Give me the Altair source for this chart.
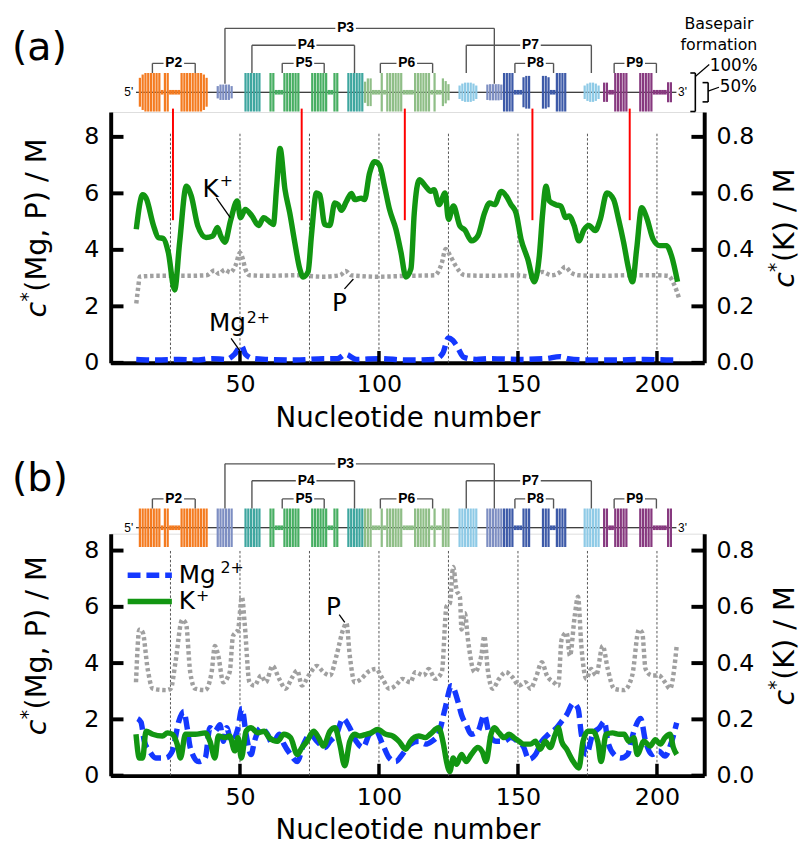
import altair as alt
import pandas as pd

# ---------------- data: panel (a) ----------------
A_K_N = [12.7, 15.0, 16.2, 18.9, 20.6, 22.4, 24.2, 26.5, 28.3, 30.7,
         32.5, 34.8, 37.8, 40.2, 41.9, 43.1, 44.6, 46.6, 49.0, 50.2,
         51.9, 54.3, 56.7, 58.5, 60.8, 62.0, 63.2, 64.4, 66.2, 67.9,
         69.7, 71.5, 72.7, 74.5, 75.7, 77.5, 78.7, 80.5, 82.3, 84.1,
         85.3, 86.5, 88.3, 90.1, 91.3, 93.6, 94.8, 96.6, 98.4, 100.2,
         102.0, 103.8, 106.1, 107.9, 109.7, 111.5, 112.7, 114.5, 116.8, 118.6,
         119.8, 121.6, 123.8, 125.0, 126.8, 129.1, 130.9, 133.3, 135.6, 138.0,
         139.8, 141.6, 144.0, 145.8, 147.5, 149.3, 151.1, 153.5, 155.9, 157.7,
         158.9, 160.1, 161.3, 163.6, 165.4, 167.2, 168.4, 170.2, 171.9, 173.7,
         175.5, 177.8, 179.6, 182.0, 184.4, 186.2, 188.0, 189.8, 191.2, 192.7,
         194.5, 196.3, 198.6, 201.0, 203.4, 205.2, 207.4]
A_K = [0.473, 0.595, 0.584, 0.486, 0.444, 0.440, 0.392, 0.258, 0.427, 0.625,
       0.590, 0.486, 0.444, 0.449, 0.479, 0.449, 0.427, 0.503, 0.573, 0.514,
       0.543, 0.520, 0.486, 0.514, 0.498, 0.490, 0.625, 0.759, 0.613, 0.531,
       0.427, 0.333, 0.304, 0.322, 0.450, 0.601, 0.595, 0.490, 0.486, 0.566,
       0.560, 0.540, 0.572, 0.600, 0.578, 0.583, 0.578, 0.671, 0.712, 0.700,
       0.625, 0.543, 0.473, 0.392, 0.304, 0.333, 0.531, 0.648, 0.625, 0.607,
       0.613, 0.560, 0.601, 0.508, 0.555, 0.485, 0.470, 0.432, 0.450, 0.531,
       0.566, 0.560, 0.607, 0.590, 0.560, 0.531, 0.438, 0.368, 0.287, 0.380,
       0.531, 0.625, 0.573, 0.560, 0.555, 0.514, 0.520, 0.486, 0.432, 0.470,
       0.486, 0.468, 0.508, 0.601, 0.578, 0.508, 0.427, 0.333, 0.287, 0.403,
       0.549, 0.514, 0.438, 0.415, 0.415, 0.380, 0.287]
A_P_N = [12.7, 13.3, 14.0, 20.0, 30.0, 38.0, 40.8, 42.5, 44.5, 46.5,
         48.4, 50.0, 50.8, 52.0, 53.5, 60.0, 70.0, 80.0, 86.0, 88.0,
         90.0, 100.0, 110.0, 120.0, 122.5, 124.0, 125.6, 127.5, 130.9, 140.0,
         150.0, 155.0, 158.9, 162.0, 165.0, 167.0, 169.0, 172.0, 180.0, 190.0,
         200.0, 204.0, 206.5, 207.9]
A_P = [2.10, 2.60, 3.05, 3.08, 3.08, 3.10, 3.27, 3.15, 3.30, 3.20,
       3.45, 3.90, 3.75, 3.30, 3.10, 3.08, 3.10, 3.05, 3.10, 3.25,
       3.10, 3.05, 3.08, 3.10, 3.50, 4.03, 3.80, 3.45, 3.10, 3.08,
       3.10, 3.05, 3.22, 3.10, 3.20, 3.40, 3.20, 3.10, 3.08, 3.10,
       3.10, 3.08, 2.70, 2.30]
A_MG_N = [12.7, 20.0, 28.0, 35.0, 40.0, 45.0, 48.0, 50.5, 52.0, 55.0,
          60.0, 70.0, 80.0, 85.0, 88.0, 92.0, 100.0, 110.0, 120.0, 123.0,
          125.0, 126.5, 128.0, 130.5, 135.0, 140.0, 150.0, 160.0, 165.0, 168.0,
          175.0, 185.0, 195.0, 205.0, 208.0]
A_MG = [0.12, 0.10, 0.12, 0.10, 0.15, 0.12, 0.30, 0.60, 0.30, 0.15,
        0.12, 0.10, 0.15, 0.15, 0.30, 0.12, 0.15, 0.10, 0.12, 0.35,
        0.88, 0.80, 0.60, 0.20, 0.12, 0.15, 0.12, 0.15, 0.22, 0.15,
        0.10, 0.10, 0.12, 0.10, 0.10]
A_RED_N = [25.9, 72.2, 109.3, 155.2, 190.2]
A_RED_FROM, A_RED_TO = 5.05, 9.0

# ---------------- data: panel (b) ----------------
B_P_N = [12.6, 13.8, 15.0, 16.8, 18.6, 23.3, 25.1, 26.8, 29.2, 30.6,
         32.1, 33.9, 37.5, 39.8, 41.0, 42.2, 44.0, 46.3, 47.5, 49.3,
         50.7, 51.7, 53.4, 55.2, 57.6, 59.3, 61.7, 64.1, 66.4, 68.8,
         70.6, 72.3, 74.7, 77.7, 80.0, 82.4, 84.7, 87.1, 88.3, 89.5,
         91.3, 93.6, 96.0, 98.9, 101.3, 103.7, 106.0, 108.4, 111.3, 113.1,
         116.1, 117.9, 120.2, 122.6, 124.3, 125.5, 126.7, 127.9, 129.1, 129.7,
         130.9, 132.0, 134.4, 136.8, 137.9, 139.1, 140.9, 143.2, 145.6, 148.0,
         150.4, 152.7, 154.5, 156.3, 158.6, 160.4, 162.8, 164.5, 165.7, 167.5,
         168.7, 170.4, 171.6, 172.8, 174.6, 176.3, 178.1, 180.5, 182.3, 184.6,
         188.2, 191.1, 193.5, 194.7, 195.9, 198.2, 200.6, 202.9, 204.7, 207.1]
B_P = [3.32, 5.19, 5.10, 3.79, 3.09, 3.04, 3.09, 4.03, 5.54, 5.40,
       3.68, 3.09, 3.04, 3.68, 4.61, 4.26, 3.32, 3.68, 4.96, 5.19,
       6.36, 5.40, 3.32, 3.20, 3.56, 3.32, 3.90, 3.44, 3.09, 3.50,
       3.74, 3.20, 3.56, 3.90, 3.68, 3.56, 4.26, 5.19, 5.42, 4.26,
       3.32, 3.44, 3.68, 3.79, 3.44, 3.09, 3.20, 3.44, 3.32, 3.68,
       3.56, 3.79, 3.44, 3.68, 6.01, 6.13, 7.42, 6.60, 6.36, 5.19,
       5.77, 4.84, 3.68, 4.26, 4.96, 3.79, 3.09, 3.44, 3.68, 3.50,
       3.20, 3.32, 3.09, 3.44, 4.03, 3.56, 3.32, 3.20, 4.84, 5.08,
       4.26, 5.66, 6.36, 4.61, 3.44, 3.79, 3.56, 4.61, 3.79, 3.09,
       3.04, 3.56, 5.19, 5.08, 3.79, 3.56, 3.56, 3.32, 3.09, 4.61]
B_MG_N = [13.2, 14.4, 15.6, 17.4, 19.7, 23.3, 25.7, 28.0, 29.8, 31.0,
          32.1, 35.1, 37.5, 39.2, 41.0, 42.8, 44.0, 45.2, 46.9, 49.3,
          50.7, 52.2, 54.0, 55.2, 57.6, 59.9, 61.7, 64.1, 65.8, 68.2,
          70.6, 72.9, 75.3, 77.7, 80.6, 82.4, 84.7, 87.1, 89.5, 91.8,
          94.2, 96.6, 98.9, 101.3, 103.7, 106.0, 108.4, 111.3, 114.3, 116.7,
          119.0, 121.4, 123.8, 126.1, 128.5, 129.7, 131.4, 133.2, 135.6, 137.9,
          139.7, 142.1, 145.0, 147.4, 149.8, 152.1, 153.9, 156.3, 158.6, 161.0,
          163.9, 165.7, 167.5, 169.9, 171.6, 172.8, 174.6, 176.9, 179.3, 181.1,
          182.3, 184.6, 187.0, 189.4, 191.7, 194.1, 195.9, 198.2, 200.6, 202.9,
          205.3, 207.1]
B_MG = [2.03, 1.90, 1.22, 0.88, 0.63, 0.63, 0.88, 1.93, 2.28, 1.70,
        1.00, 0.50, 0.63, 1.70, 1.58, 1.81, 1.22, 1.70, 1.22, 1.70,
        2.39, 1.47, 0.75, 1.22, 1.70, 1.47, 1.12, 1.47, 1.12, 0.75,
        0.50, 1.12, 1.47, 1.22, 1.00, 1.22, 1.47, 2.03, 1.70, 1.22,
        1.00, 1.47, 1.58, 1.12, 0.63, 0.50, 0.75, 1.12, 1.22, 1.12,
        1.22, 1.47, 2.39, 3.20, 2.60, 2.16, 1.81, 1.47, 1.58, 2.16,
        1.47, 1.22, 1.22, 1.35, 1.22, 1.00, 0.58, 0.75, 1.22, 1.47,
        1.70, 1.93, 2.16, 2.57, 2.39, 1.47, 0.75, 1.47, 1.70, 1.93,
        1.22, 0.75, 0.63, 0.75, 1.58, 2.03, 1.22, 0.75, 0.88, 0.70,
        1.22, 1.88]
B_K_N = [12.6, 13.8, 15.0, 16.2, 18.6, 22.1, 23.9, 25.7, 27.4, 28.6,
         30.4, 33.9, 37.5, 39.2, 41.0, 42.2, 44.6, 46.3, 48.1, 49.3,
         50.5, 52.2, 54.0, 56.4, 58.7, 60.5, 63.5, 65.8, 68.2, 70.6,
         72.3, 74.1, 76.5, 78.3, 80.0, 82.4, 84.2, 85.9, 87.7, 89.5,
         91.3, 93.0, 95.4, 97.2, 99.5, 102.5, 104.9, 107.2, 109.6, 111.3,
         114.3, 116.7, 118.4, 121.4, 123.2, 124.3, 125.5, 126.7, 127.9, 129.7,
         131.4, 133.2, 135.6, 137.3, 138.5, 140.3, 141.5, 143.2, 145.0, 146.8,
         148.6, 150.4, 152.1, 154.5, 156.3, 158.0, 159.8, 161.6, 163.4, 164.5,
         165.7, 167.5, 169.9, 171.9, 173.4, 175.2, 176.9, 178.7, 179.9, 181.7,
         184.0, 186.4, 188.2, 189.9, 191.7, 192.9, 195.3, 197.6, 199.4, 201.2,
         202.9, 204.7, 205.9, 207.1]
B_K = [0.147, 0.063, 0.063, 0.158, 0.147, 0.141, 0.152, 0.147, 0.112, 0.063,
       0.147, 0.147, 0.152, 0.122, 0.063, 0.141, 0.135, 0.141, 0.088, 0.135,
       0.063, 0.158, 0.170, 0.152, 0.158, 0.135, 0.122, 0.147, 0.135, 0.075,
       0.100, 0.122, 0.158, 0.135, 0.105, 0.158, 0.170, 0.112, 0.035, 0.122,
       0.147, 0.141, 0.147, 0.152, 0.164, 0.147, 0.141, 0.122, 0.094, 0.122,
       0.141, 0.135, 0.147, 0.170, 0.112, 0.050, 0.015, 0.063, 0.040, 0.075,
       0.050, 0.075, 0.100, 0.082, 0.050, 0.147, 0.170, 0.152, 0.135, 0.147,
       0.135, 0.122, 0.112, 0.112, 0.122, 0.094, 0.122, 0.100, 0.147, 0.170,
       0.122, 0.094, 0.050, 0.027, 0.122, 0.158, 0.158, 0.122, 0.050, 0.147,
       0.152, 0.147, 0.147, 0.122, 0.135, 0.075, 0.122, 0.105, 0.128, 0.112,
       0.135, 0.147, 0.100, 0.075]

GUIDES = [25, 50, 75, 100, 125, 150, 175, 200]
X_TICKS = [50, 100, 150, 200]
YL_TICKS = [0, 2, 4, 6, 8]
YR_TICKS = [0.0, 0.2, 0.4, 0.6, 0.8]

# ---------------- secondary-structure diagram ----------------
HELIX = ["P2", "P3", "P4", "P5", "P6", "P7", "P8", "P9"]
HELIX_COLORS = ["#f47b20", "#7d8ec2", "#3ea69f", "#47ae62", "#8fbe87", "#8ecae6", "#3d5aa8", "#87397f"]
# (first nt, last nt, helix, basepair fraction in (a), in (b)); 0.12 = unpaired loop segment
STRUCT = [
    (14, 21, "P2", [0.75, 0.92, 1, 1, 1, 1, 1, 1], 1),
    (22, 22, "P2", 0.12, 0.12),
    (23, 24, "P2", 1, 1),
    (25, 28, "P2", 0.12, 0.12),
    (29, 30, "P2", 1, 1),
    (31, 38, "P2", [1, 1, 1, 1, 1, 1, 0.92, 0.75], 1),
    (42, 47, "P3", [0.32, 0.4, 0.4, 0.4, 0.4, 0.32], 1),
    (52, 57, "P4", 1, 1),
    (61, 62, "P5", 1, 1),
    (63, 65, "P5", 0.12, 0.12),
    (66, 71, "P5", 1, 1),
    (76, 81, "P5", 1, 1),
    (82, 83, "P5", 0.12, 0.12),
    (84, 85, "P5", 1, 1),
    (89, 94, "P4", 1, 1),
    (95, 97, "P6", [0.55, 0.72, 0.72], 1),
    (98, 100, "P6", 0.12, 0.12),
    (101, 101, "P6", 1, 1),
    (102, 102, "P6", 0.12, 0.12),
    (103, 108, "P6", 1, 1),
    (109, 112, "P6", 0.12, 0.12),
    (113, 118, "P6", 1, 1),
    (119, 119, "P6", 0.12, 0.12),
    (120, 120, "P6", 1, 1),
    (121, 122, "P6", 0.12, 0.12),
    (123, 125, "P6", [0.72, 0.58, 0.42], 1),
    (129, 135, "P7", [0.35, 0.45, 0.5, 0.5, 0.5, 0.45, 0.35], 1),
    (139, 144, "P3", [0.4, 0.42, 0.42, 0.42, 0.42, 0.4], 1),
    (145, 148, "P8", 1, 1),
    (149, 151, "P8", 0.12, 0.12),
    (152, 154, "P8", [0.78, 0.85, 0.85], 1),
    (159, 161, "P8", [0.85, 0.85, 0.78], 1),
    (162, 163, "P8", 0.12, 0.12),
    (164, 167, "P8", 1, 1),
    (174, 179, "P7", [0.35, 0.45, 0.5, 0.5, 0.45, 0.35], 1),
    (181, 182, "P9", 0.5, 1),
    (183, 184, "P9", 0.12, 0.12),
    (185, 189, "P9", 1, 1),
    (194, 198, "P9", 1, 1),
    (199, 203, "P9", 0.12, 0.12),
    (204, 205, "P9", 0.52, 1),
]
BACKBONE = (12.6, 207.0)
# helix label, left nt, right nt, bracket level (bar heights), label nt
BRACKETS = [
    ("P2", 18.5, 33.9, 0.75, 26.2),
    ("P3", 44.6, 141.5, 1.66, 88.0),
    ("P4", 54.3, 91.2, 1.22, 73.8),
    ("P5", 65.2, 80.3, 0.75, 73.0),
    ("P6", 100.5, 119.3, 0.75, 110.0),
    ("P7", 131.4, 176.4, 1.22, 154.5),
    ("P8", 148.9, 162.8, 0.75, 156.3),
    ("P9", 184.6, 199.8, 0.75, 192.0),
]

# ---------------- layout constants ----------------
XMIN, XMAX = 3.5, 217.0
W = 601
UNIT = 39.0
XS = alt.Scale(domain=[XMIN, XMAX], nice=False, zero=False)
FONT = "DejaVu Sans"


def xy(xf, yf, ys):
    return dict(x=alt.X(f"{xf}:Q", scale=XS, axis=None), y=alt.Y(f"{yf}:Q", scale=ys, axis=None))


def seg(rows, ys, **kw):
    df = pd.DataFrame(rows, columns=["x0", "x1", "y0", "y1"])
    return alt.Chart(df).mark_rule(**kw).encode(x2="x1:Q", y2="y1:Q", **xy("x0", "y0", ys))


def txt(rows, ys, **kw):
    df = pd.DataFrame(rows, columns=["t", "n", "v"])
    return alt.Chart(df).mark_text(**kw).encode(text="t:N", **xy("n", "v", ys))


def vtxt(t, x, y, **kw):
    return alt.Chart(pd.DataFrame({"t": [t]})).mark_text(**kw).encode(
        text="t:N", x=alt.value(x), y=alt.value(y))


def series(ns, vs):
    return pd.DataFrame([{"n": n, "v": v} for n, v in zip(ns, vs, strict=True)])


def panel(tag, H, ytop, gap, K, P, MG, hidx, guide_top, p3_end, cy):
    YL = alt.Scale(domain=[0, ytop], nice=False, zero=False)
    YR = alt.Scale(domain=[0, ytop / 10], nice=False, zero=False)
    d1 = -gap / UNIT
    YD = alt.Scale(domain=[d1 - H / UNIT, d1], nice=False, zero=False)
    layers = []

    xaxis = alt.Axis(values=X_TICKS, format="d", ticks=False, domainColor="black", domainWidth=4,
                     labelFontSize=24, labelFont=FONT, labelColor="black", labelPadding=10,
                     title="Nucleotide number", titleFontSize=28, titleFont=FONT,
                     titleFontWeight="normal", titleColor="black", titlePadding=8, grid=False)
    laxis = alt.Axis(orient="left", values=YL_TICKS, ticks=False, domainColor="black", domainWidth=4,
                     labelFontSize=24, labelFont=FONT, labelColor="black", labelPadding=12,
                     title=None, grid=False)
    raxis = alt.Axis(orient="right", values=YR_TICKS, format=".1f", ticks=False, domainColor="black",
                     domainWidth=4, labelFontSize=24, labelFont=FONT, labelColor="black",
                     labelPadding=12, title=None, grid=False)
    p_line = alt.Chart(series(*P)).mark_line(color="#a0a0a0", strokeWidth=4.5, strokeDash=[3.5, 2.8],
                                             interpolate="monotone").encode(
        x=alt.X("n:Q", scale=XS, axis=xaxis), y=alt.Y("v:Q", scale=YL, axis=laxis))
    mg_line = alt.Chart(series(*MG)).mark_line(color="#1438ff", strokeWidth=5.5, strokeDash=[13, 6],
                                               interpolate="monotone").encode(**xy("n", "v", YL))
    k_line = alt.Chart(series(*K)).mark_line(color="#129612", strokeWidth=5.5, interpolate="monotone").encode(
        x=alt.X("n:Q", scale=XS, axis=None), y=alt.Y("v:Q", scale=YR, axis=raxis))

    # dotted guide lines
    layers.append(seg([(g, g, 0, guide_top) for g in GUIDES], YL,
                      color="#555555", strokeWidth=1, strokeDash=[2.5, 2]))
    if tag == "a":
        layers.append(seg([(r, r, A_RED_FROM, A_RED_TO) for r in A_RED_N], YL,
                          color="#ff0000", strokeWidth=2))

    # structure diagram
    layers.append(seg([(BACKBONE[0], BACKBONE[1], 0, 0)], YD, color="black", strokeWidth=1.2))
    rows = []
    for first, last, hx, ha, hb in STRUCT:
        hs = (ha, hb)[hidx]
        for i, nt in enumerate(range(first, last + 1)):
            h = hs[i] if isinstance(hs, list) else hs
            hw = 0.5 if h < 0.2 else 0.4
            rows.append({"l": nt - hw, "r": nt + hw, "lo": -h / 2, "hi": h / 2, "helix": hx})
    bars = pd.DataFrame(rows)
    layers.append(alt.Chart(bars).mark_rect().encode(
        x=alt.X("l:Q", scale=XS, axis=None), x2="r:Q",
        y=alt.Y("lo:Q", scale=YD, axis=None), y2="hi:Q",
        color=alt.Color("helix:N", scale=alt.Scale(domain=HELIX, range=HELIX_COLORS), legend=None)))
    brows, rects = [], []
    for name, l, r, lev, lab in BRACKETS:
        end = p3_end if name == "P3" else 0.5
        brows += [(l, r, lev, lev), (l, l, lev, end), (r, r, lev, end)]
        rects.append({"l": lab - 3.7, "r": lab + 3.7, "lo": lev - 0.15, "hi": lev + 0.15})
    layers.append(seg(brows, YD, color="#555555", strokeWidth=1.4))
    layers.append(alt.Chart(pd.DataFrame(rects)).mark_rect(color="white").encode(
        x=alt.X("l:Q", scale=XS, axis=None), x2="r:Q",
        y=alt.Y("lo:Q", scale=YD, axis=None), y2="hi:Q"))
    layers.append(txt([(b[0], b[4], b[3]) for b in BRACKETS], YD, font="Liberation Sans",
                      fontWeight="bold", fontSize=14, baseline="middle", color="black"))
    layers.append(txt([("5'", 11.6, 0)], YD, font="Liberation Sans", fontSize=12,
                      align="right", baseline="middle", color="black"))
    layers.append(txt([("3'", 207.6, 0)], YD, font="Liberation Sans", fontSize=12,
                      align="left", baseline="middle", color="black"))
    if tag == "a":
        layers.append(seg([(213.8, 213.8, -0.5, 0.5), (212.0, 213.8, 0.5, 0.5), (212.0, 213.8, -0.5, -0.5),
                           (218.4, 218.4, -0.25, 0.25), (216.4, 218.4, 0.25, 0.25), (216.4, 218.4, -0.25, -0.25)],
                          YD, color="black", strokeWidth=1.6))
        layers.append(seg([(213.8, 218.8, 0.41, 0.72), (218.4, 222.3, 0.03, 0.13)], YD,
                          color="black", strokeWidth=1.2))
        layers.append(txt([("100%", 219.0, 0.69), ("50%", 222.6, 0.13)], YD, font=FONT, fontSize=17,
                          align="left", baseline="middle", color="black"))
        layers.append(txt([("Basepair", 222.3, 1.77), ("formation", 222.3, 1.23)], YD, font=FONT,
                          fontSize=16, align="center", baseline="middle", color="black"))

    layers += [p_line, mg_line, k_line]

    # inward ticks
    tl = 4.6
    layers.append(seg([(XMIN, XMIN + tl, t, t) for t in YL_TICKS], YL, color="black", strokeWidth=4))
    layers.append(seg([(XMAX - tl, XMAX, t, t) for t in YR_TICKS], YR, color="black", strokeWidth=4))
    layers.append(seg([(t, t, 0, 12 / (H / ytop)) for t in X_TICKS], YL, color="black", strokeWidth=3.5))

    # annotations
    big = dict(font=FONT, fontSize=25, color="black", baseline="middle")
    sup = dict(font=FONT, fontSize=16, color="black", baseline="middle", align="left")
    if tag == "a":
        layers.append(txt([("K", 39.4, 6.15), ("P", 85.8, 2.13), ("Mg", 45.5, 1.42)], YL, align="center", **big))
        layers.append(txt([("+", 42.7, 6.42), ("2+", 52.4, 1.6)], YL, **sup))
        layers.append(seg([(41.5, 46.5, 5.84, 5.14), (87.6, 90.8, 2.62, 2.97), (46.8, 50.0, 0.87, 0.42)], YL,
                          color="black", strokeWidth=1.3))
    else:
        layers.append(seg([(9.6, 25.5, 7.12, 7.12)], YL, color="#1438ff", strokeWidth=5.5, strokeDash=[13, 6]))
        layers.append(seg([(9.6, 25.5, 6.19, 6.19)], YL, color="#129612", strokeWidth=5.5))
        layers.append(txt([("Mg", 28.0, 7.14), ("K", 28.0, 6.2)], YL, align="left", **big))
        layers.append(txt([("2+", 43.0, 7.38), ("+", 34.2, 6.4)], YL, **sup))
        layers.append(txt([("P", 83.6, 5.98)], YL, align="center", **big))
        layers.append(seg([(85.7, 87.7, 5.72, 5.45)], YL, color="black", strokeWidth=1.3))

    # panel tag and rotated axis titles
    layers.append(vtxt(f"({tag})", -100, -65 if tag == "a" else -55, font=FONT, fontSize=40,
                       align="left", baseline="middle", color="black"))
    rot = dict(font=FONT, angle=270, align="left", baseline="alphabetic", color="black")
    layers.append(vtxt("c", -66, cy + 98, fontSize=29, fontStyle="italic", **rot))
    layers.append(vtxt("*", -78, cy + 82, fontSize=19, **rot))
    layers.append(vtxt(" (Mg, P) / M", -66, cy + 72, fontSize=29, **rot))
    layers.append(vtxt("c", 692, cy + 68, fontSize=29, fontStyle="italic", **rot))
    layers.append(vtxt("*", 680, cy + 52, fontSize=19, **rot))
    layers.append(vtxt(" (K) / M", 692, cy + 42, fontSize=29, **rot))

    return (alt.layer(*layers).resolve_scale(y="independent").resolve_axis(x="independent")
            .properties(width=W, height=H))


pa = panel("a", 254, 8.88, 20, (A_K_N, A_K), (A_P_N, A_P), (A_MG_N, A_MG), 0, 8.15, 0.22, 110)
pb = panel("b", 245, 8.6, 6, (B_K_N, B_K), (B_P_N, B_P), (B_MG_N, B_MG), 1, 8.05, 0.5, 106)

chart = alt.vconcat(pa, pb, spacing=23).properties(
    padding={"left": 3, "top": 2, "right": 0, "bottom": 0}
).configure_view(strokeWidth=0).configure(font=FONT, background="white")

chart.save("out.html", embed_options={"renderer": "svg", "actions": False})
